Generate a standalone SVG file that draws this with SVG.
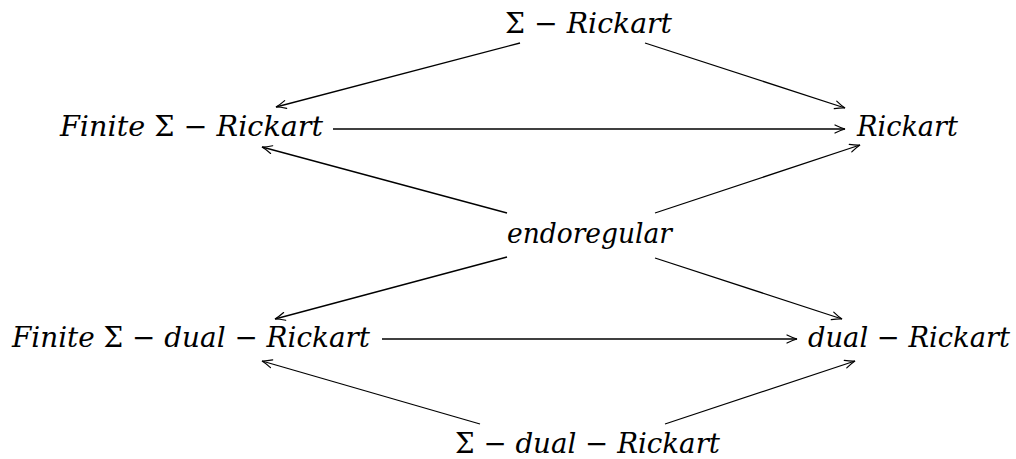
<svg xmlns="http://www.w3.org/2000/svg" width="1016" height="459" viewBox="0 0 1016 459">
<style>
  text { font-family: 'DejaVu Serif', serif; font-size: 28px; font-style: italic; fill: #000; }
  tspan.up { font-style: normal; }
  .edge { stroke: #000; stroke-width: 1.3; fill: none; marker-end: url(#arr); }
</style>
<defs>
  <marker id="arr" markerUnits="userSpaceOnUse" viewBox="-12 -6 14 12" refX="0" refY="0" markerWidth="14" markerHeight="12" orient="auto" overflow="visible">
    <path d="M-10,-4 Q-4,-1 0,0 Q-4,1 -10,4" fill="none" stroke="#000" stroke-width="1.2" stroke-linecap="round"/>
  </marker>
</defs>
<rect width="1016" height="459" fill="#fff"/>
<g id="connectors">
  <path class="edge" d="M520,43 L276,107"/>
  <path class="edge" d="M645,43 L845,108"/>
  <path class="edge" d="M333,129 L845,129"/>
  <path class="edge" d="M507,213 L262,147"/>
  <path class="edge" d="M655,213 L860,145"/>
  <path class="edge" d="M507,257 L275,319"/>
  <path class="edge" d="M655,258 L842,319"/>
  <path class="edge" d="M382,339 L797,339"/>
  <path class="edge" d="M480,424 L262,361"/>
  <path class="edge" d="M665,424 L855,361"/>
</g>
<g id="sigma-rickart"><text x="505" y="33" textLength="167" lengthAdjust="spacingAndGlyphs"><tspan class="up">Σ − </tspan>Rickart</text></g>
<g id="finite-sigma-rickart"><text x="60" y="136" textLength="263" lengthAdjust="spacingAndGlyphs">Finite <tspan class="up">Σ − </tspan>Rickart</text></g>
<g id="rickart"><text x="857" y="136" textLength="101" lengthAdjust="spacingAndGlyphs">Rickart</text></g>
<g id="endoregular"><text x="507" y="243" textLength="165" lengthAdjust="spacingAndGlyphs">endoregular</text></g>
<g id="finite-sigma-dual-rickart"><text x="12" y="347" textLength="358" lengthAdjust="spacingAndGlyphs">Finite <tspan class="up">Σ − </tspan>dual<tspan class="up"> − </tspan>Rickart</text></g>
<g id="dual-rickart"><text x="1010" y="347" text-anchor="end" textLength="202" lengthAdjust="spacingAndGlyphs">dual<tspan class="up"> − </tspan>Rickart</text></g>
<g id="sigma-dual-rickart"><text x="455" y="453" textLength="265" lengthAdjust="spacingAndGlyphs"><tspan class="up">Σ − </tspan>dual<tspan class="up"> − </tspan>Rickart</text></g>
</svg>
